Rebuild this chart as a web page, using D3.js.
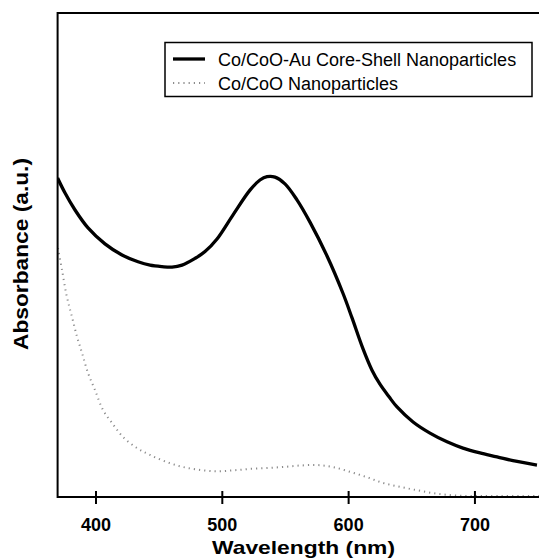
<!DOCTYPE html>
<html>
<head>
<meta charset="utf-8">
<script src="https://cdn.jsdelivr.net/npm/d3@7"></script>
<style>
  html, body { margin: 0; padding: 0; background: #fff; }
  svg { display: block; }
  text { font-family: "Liberation Sans", Arial, Helvetica, sans-serif; }
</style>
</head>
<body>
<svg id="chart" width="539" height="558"></svg>
<script>
// Wavelength (nm) and absorbance (a.u.)
const coreShellWavelength = [370, 375.9, 383.8, 394.1, 407.5, 421, 433.7, 443.2, 452.6, 460.6, 468.5, 478.8, 486.7, 496.2, 508.9, 522.3, 530.2, 535.8, 542.1, 550, 559.5, 569.8, 583.3, 595.9, 603.1, 611.8, 618.9, 625.2, 632.4, 638.7, 651.4, 664.8, 678.3, 690.9, 704.4, 717.9, 730.5, 749.5];
const coreShellAbsorbance = [0.659, 0.628, 0.593, 0.556, 0.523, 0.500, 0.486, 0.479, 0.476, 0.475, 0.479, 0.493, 0.507, 0.533, 0.583, 0.634, 0.655, 0.662, 0.661, 0.647, 0.614, 0.568, 0.498, 0.421, 0.370, 0.306, 0.262, 0.233, 0.207, 0.186, 0.155, 0.132, 0.114, 0.101, 0.091, 0.083, 0.075, 0.066];

const coreWavelength = [370.3, 373.5, 377.4, 381.4, 385.4, 389.3, 394.1, 399.6, 405.9, 413.1, 421.8, 432.9, 443.1, 456.6, 469.3, 482.7, 496.2, 508.8, 522.3, 535.8, 548.4, 561.9, 575.4, 588, 601.4, 614.9, 627.6, 641, 654.5, 667.2, 680.6, 694.1, 706.8, 751];
const coreAbsorbance = [0.514, 0.469, 0.413, 0.372, 0.331, 0.298, 0.256, 0.221, 0.180, 0.153, 0.124, 0.101, 0.087, 0.072, 0.062, 0.056, 0.053, 0.055, 0.058, 0.060, 0.062, 0.065, 0.066, 0.062, 0.052, 0.041, 0.029, 0.021, 0.014, 0.008, 0.004, 0.002, 0.002, 0.002];

const xTicks = [400, 500, 600, 700];
const seriesNames = ["Co/CoO-Au Core-Shell Nanoparticles", "Co/CoO Nanoparticles"];
const xTitle = "Wavelength (nm)";
const yTitle = "Absorbance (a.u.)";

(function () {
const svg = d3.select("#chart");
const mLeft = 57.6, mRight = 537.6, mTop = 13, mBottom = 497;

const x = d3.scaleLinear().domain([370, 750]).range([mLeft, mRight]);
const y = d3.scaleLinear().domain([0, 1]).range([mBottom, mTop]);

svg.append("clipPath").attr("id", "clip")
  .append("rect").attr("x", mLeft).attr("y", mTop).attr("width", 539 - mLeft).attr("height", mBottom - mTop);

const line = d3.line().x(d => x(d[0])).y(d => y(d[1])).curve(d3.curveCatmullRom.alpha(0.5));

const coreShell = coreShellWavelength.map((w, i) => [w, coreShellAbsorbance[i]]);
const core = coreWavelength.map((w, i) => [w, coreAbsorbance[i]]);

const g = svg.append("g").attr("clip-path", "url(#clip)");
g.append("path").datum(core).attr("d", line)
  .attr("fill", "none").attr("stroke", "#8c8c8c").attr("stroke-width", 2)
  .attr("stroke-dasharray", "1.2,4");
g.append("path").datum(coreShell).attr("d", line)
  .attr("fill", "none").attr("stroke", "#000").attr("stroke-width", 3.3)
  .attr("stroke-linejoin", "round");

// frame: left, bottom, top
svg.append("line").attr("x1", mLeft).attr("x2", mLeft).attr("y1", mTop - 1).attr("y2", mBottom + 1)
  .attr("stroke", "#000").attr("stroke-width", 2);
svg.append("line").attr("x1", mLeft).attr("x2", 539).attr("y1", mTop).attr("y2", mTop)
  .attr("stroke", "#000").attr("stroke-width", 2);

const xAxis = d3.axisBottom(x).tickValues(xTicks).tickSizeInner(6).tickSizeOuter(0).tickPadding(14);
const ax = svg.append("g").attr("transform", `translate(0,${mBottom})`).call(xAxis);
ax.select(".domain").attr("d", `M${mLeft},0H539`).attr("stroke", "#000").attr("stroke-width", 2);
ax.selectAll(".tick line").attr("y1", -6).attr("y2", 7).attr("stroke", "#000").attr("stroke-width", 2);
ax.selectAll(".tick text").attr("font-size", 18).attr("font-weight", "bold").attr("fill", "#000")
  .attr("font-family", "'Liberation Sans', Arial, sans-serif").attr("dy", null).attr("y", 34);

svg.append("text").attr("x", 303.5).attr("y", 553.5).attr("text-anchor", "middle")
  .attr("font-size", 19).attr("font-weight", "bold").attr("textLength", 183)
  .attr("lengthAdjust", "spacingAndGlyphs").text(xTitle);

svg.append("text").attr("transform", "translate(28,254) rotate(-90)").attr("text-anchor", "middle")
  .attr("font-size", 20).attr("font-weight", "bold").attr("textLength", 192)
  .attr("lengthAdjust", "spacingAndGlyphs").text(yTitle);

// legend
const lg = svg.append("g");
lg.append("rect").attr("x", 165).attr("y", 42.5).attr("width", 367).attr("height", 54)
  .attr("fill", "#fff").attr("stroke", "#000").attr("stroke-width", 1.5);
const legendStyles = [
  { stroke: "#000", width: 3.3, dash: null },
  { stroke: "#8c8c8c", width: 2, dash: "1.2,4" }
];
seriesNames.forEach((name, i) => {
  const ly = 59 + i * 24;
  lg.append("line").attr("x1", 173).attr("x2", 205).attr("y1", ly).attr("y2", ly)
    .attr("stroke", legendStyles[i].stroke).attr("stroke-width", legendStyles[i].width)
    .attr("stroke-dasharray", legendStyles[i].dash);
  lg.append("text").attr("x", 218).attr("y", ly + 6.5).attr("font-size", 18).attr("fill", "#000").text(name);
});
})();
</script>
</body>
</html>
